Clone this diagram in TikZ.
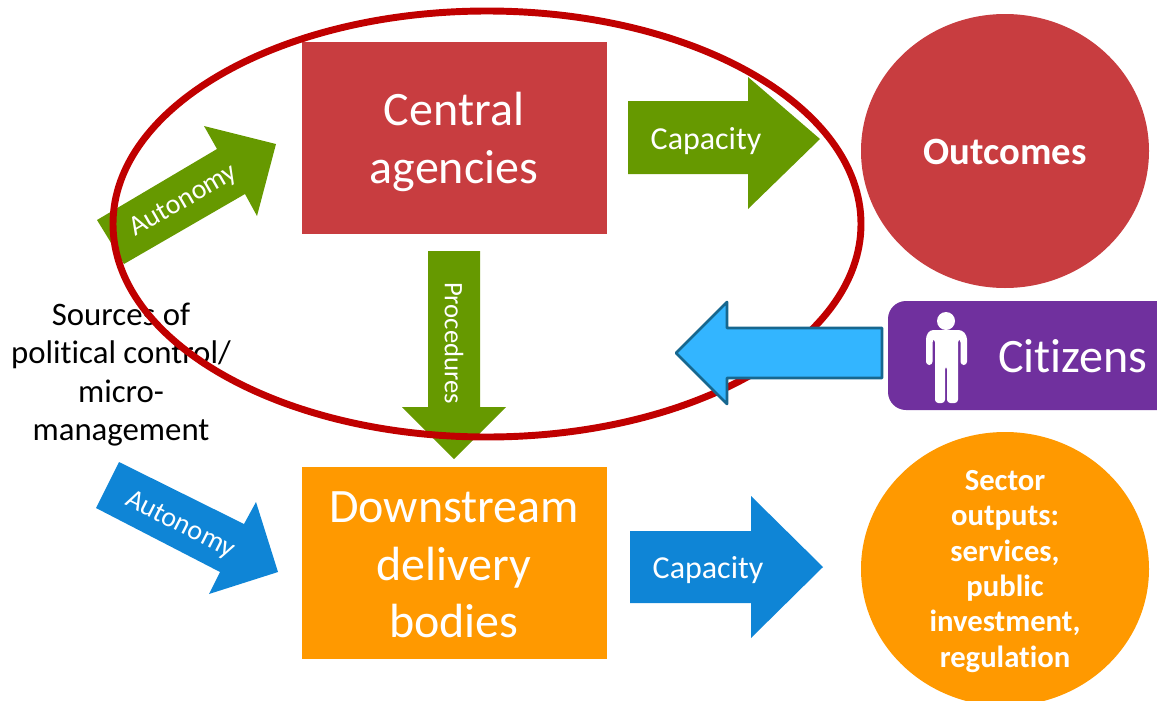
\documentclass[tikz,border=0pt]{standalone}
\usepackage{fontspec}
\setmainfont{Carlito}[Ligatures=NoCommon]
\definecolor{cred}{HTML}{C83D40}
\definecolor{corange}{HTML}{FF9900}
\definecolor{cgreen}{HTML}{669900}
\definecolor{cblue}{HTML}{0F85D6}
\definecolor{cpurple}{HTML}{70309E}
\definecolor{csky}{HTML}{33B5FF}
\definecolor{cskyd}{HTML}{17678F}
\definecolor{cring}{HTML}{C00000}
\tikzset{
  boxtext/.style={text=white,align=center,font=\fontsize{36}{43}\selectfont},
  arrowtext/.style={text=white,inner sep=0pt,font=\fontsize{24}{28}\selectfont},
  circtext/.style={text=white,align=center,font=\bfseries\fontsize{23}{26.5}\selectfont},
  blacktext/.style={text=black,align=center,font=\fontsize{24.6}{28.7}\selectfont},
}
\begin{document}
\begin{tikzpicture}[x=0.75pt,y=-0.75pt]
\useasboundingbox (0,0) rectangle (1157,700);
\clip (0,0) rectangle (1157,700);
% boxes
\fill[cred] (302,42) rectangle (607,234);
\fill[corange] (302,467) rectangle (607,659);
\fill[cred] (1005,151) circle [x radius=144,y radius=-137];
\fill[corange] (1005,569) circle [x radius=144,y radius=-137];
\fill[cpurple,rounded corners=13.5pt] (888,301) rectangle (1190,410);
% person
\fill[white] (946,321) circle [radius=9];
\fill[white,rounded corners=2.5pt] (930,330) -- (962,330) -- (967,336) -- (967,365) -- (960.5,365) -- (960.5,339) -- (958,339) -- (958,403) -- (947,403) -- (947,366) -- (945,366) -- (945,403) -- (935,403) -- (935,339) -- (932.5,339) -- (932.5,365) -- (926,365) -- (926,336) -- cycle;
% arrows
\fill[cgreen] (97,220) -- (217,149) -- (204,126) -- (276,144) -- (257,216) -- (245,194) -- (124,264) -- cycle;
\fill[cgreen] (628,101) -- (748,101) -- (748,77) -- (820,139) -- (748,209) -- (748,174) -- (628,174) -- cycle;
\fill[cgreen] (428,251) -- (480,251) -- (480,407) -- (506,407) -- (454,459) -- (402,407) -- (428,407) -- cycle;
\fill[cblue] (96,508) -- (119,462) -- (244,524) -- (256,502) -- (278,572) -- (209,594) -- (220,572) -- cycle;
\fill[cblue] (630,531) -- (751,531) -- (751,496) -- (823,567) -- (751,638) -- (751,603) -- (630,603) -- cycle;
% left text
\node[blacktext] (src) at (121,374.5) {Sources of\\political control/\\micro-\\management};
% ring
\draw[cring,line width=5.2pt] (487,224) ellipse [x radius=374,y radius=-213];
% citizens arrow
\draw[cskyd,fill=csky,line width=2pt,line join=round] (676,353) -- (727,302) -- (727,328) -- (882,328) -- (882,378) -- (727,378) -- (727,404) -- cycle;
% labels
\node[boxtext] (ca) at (454,142) {Central\\agencies};
\node[boxtext] (dd) at (454,565) {Downstream\\delivery\\bodies};
\node[text=white,font=\bfseries\fontsize{29}{34}\selectfont] (oc) at (1005,152) {Outcomes};
\node[circtext] (so) at (1005,571.5) {Sector\\outputs:\\services,\\public\\investment,\\regulation};
\node[text=white,inner sep=0pt,font=\fontsize{36}{42}\selectfont] (ci) at (1073,356) {Citizens};
\node[arrowtext,font=\fontsize{21}{25}\selectfont] (a1) at (184,201) [rotate=30] {Autonomy};
\node[arrowtext,font=\fontsize{21}{25}\selectfont] (a2) at (180,525) [rotate=-27] {Autonomy};
\node[arrowtext] (c1) at (706,141) {Capacity};
\node[arrowtext] (c2) at (708,570) {Capacity};
\node[arrowtext,font=\fontsize{20}{24}\selectfont] (pr) at (454,343) [rotate=-90] {Procedures};
\end{tikzpicture}
\end{document}
